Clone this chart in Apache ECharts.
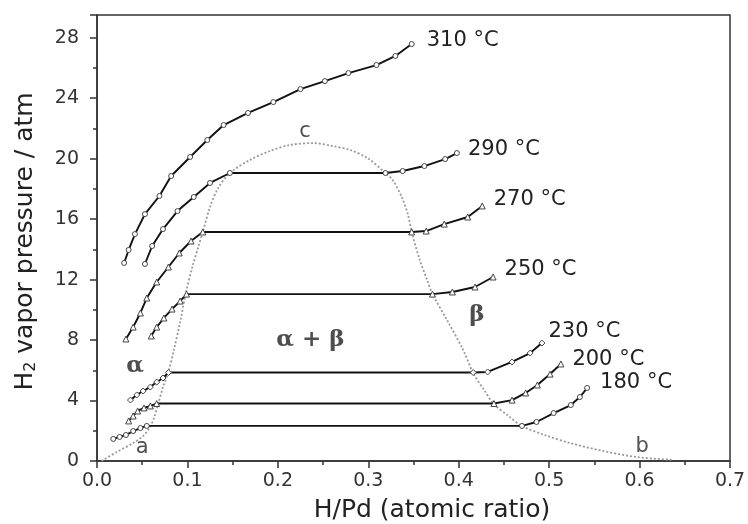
<!DOCTYPE html>
<html>
<head>
<meta charset="utf-8">
<script src="https://cdn.jsdelivr.net/npm/echarts@6/dist/echarts.min.js"></script>
<style>
html, body { margin: 0; padding: 0; background: #fff; }
#main { width: 748px; height: 524px; }
</style>
</head>
<body>
<div id="main"></div>
<script>
// isotherms: [H/Pd, pressure atm]
var t310 = [[0.030,13.10],[0.035,13.96],[0.042,15.01],[0.053,16.33],[0.069,17.53],[0.082,18.85],[0.103,20.11],[0.122,21.23],[0.140,22.22],[0.167,23.02],[0.195,23.74],[0.225,24.60],[0.252,25.13],[0.278,25.66],[0.309,26.19],[0.330,26.79],[0.348,27.58]];
var t290 = [[0.053,13.03],[0.061,14.22],[0.073,15.34],[0.089,16.53],[0.107,17.46],[0.125,18.39],[0.147,19.05],[0.319,19.05],[0.338,19.18],[0.362,19.51],[0.385,19.97],[0.398,20.37]];
var t270 = [[0.032,8.07],[0.040,8.86],[0.048,9.79],[0.055,10.78],[0.066,11.84],[0.079,12.83],[0.091,13.76],[0.104,14.55],[0.117,15.15],[0.348,15.15],[0.364,15.21],[0.384,15.67],[0.410,16.14],[0.426,16.87]];
var t250 = [[0.060,8.27],[0.066,8.86],[0.074,9.46],[0.083,10.05],[0.092,10.58],[0.099,11.04],[0.371,11.04],[0.393,11.18],[0.418,11.51],[0.438,12.17]];
var t230 = [[0.037,4.03],[0.044,4.37],[0.051,4.63],[0.059,4.89],[0.066,5.22],[0.073,5.49],[0.079,5.85],[0.416,5.85],[0.432,5.89],[0.459,6.55],[0.479,7.14],[0.492,7.80]];
var t200 = [[0.035,2.65],[0.040,2.98],[0.045,3.31],[0.052,3.51],[0.059,3.64],[0.066,3.80],[0.439,3.80],[0.459,4.03],[0.474,4.50],[0.487,5.03],[0.501,5.75],[0.513,6.42]];
var t180 = [[0.018,1.46],[0.025,1.59],[0.032,1.72],[0.040,1.98],[0.048,2.18],[0.055,2.32],[0.470,2.32],[0.486,2.58],[0.505,3.17],[0.524,3.70],[0.534,4.23],[0.542,4.83]];

// alpha / beta phase boundary (dotted)
var boundary = [[0.005,0],[0.022,0.60],[0.040,1.19],[0.051,1.65],[0.058,2.18],[0.063,2.84],[0.068,3.84],[0.073,4.89],[0.079,5.89],[0.085,7.34],[0.092,9.19],[0.098,11.04],[0.106,12.96],[0.112,14.15],[0.117,15.15],[0.125,16.80],[0.134,18.06],[0.147,19.05],[0.169,19.91],[0.191,20.50],[0.213,20.90],[0.239,21.03],[0.261,20.83],[0.280,20.57],[0.299,20.04],[0.319,19.05],[0.327,18.58],[0.337,17.46],[0.344,16.27],[0.348,15.15],[0.357,13.29],[0.365,11.97],[0.371,11.04],[0.387,9.33],[0.405,7.34],[0.416,5.82],[0.428,4.70],[0.439,3.77],[0.455,2.98],[0.470,2.31],[0.495,1.72],[0.523,1.19],[0.560,0.66],[0.597,0.26],[0.637,0.07]];

var tempNames = ['310 °C', '290 °C', '270 °C', '250 °C', '230 °C', '200 °C', '180 °C'];
var tempData = [t310, t290, t270, t250, t230, t200, t180];
var tempSymbols = ['circle', 'circle', 'triangle', 'triangle', 'diamond', 'triangle', 'circle'];
var labelOffsets = [[4, -3], [0, -3], [0, -6], [0, -7], [-5, -12], [0, -4], [2, -5]];

// region labels
var regionText = ['a', 'b', 'c', 'α', 'α + β', 'β'];
var regionPos = [[0.050, 0.86], [0.603, 0.93], [0.230, 21.76], [0.042, 6.28], [0.236, 8.0], [0.420, 9.66]];

var sans = 'DejaVu Sans, Verdana, sans-serif';
var myChart = echarts.init(document.getElementById('main'));

var series = [];
series.push({
    name: 'boundary',
    type: 'line',
    data: boundary,
    smooth: 0.3,
    symbol: 'none',
    lineStyle: { color: '#9a9a9a', width: 1.8, type: [2, 2] },
    z: 1
});

tempData.forEach(function (d, i) {
    var data = d.map(function (p, j) {
        if (j === d.length - 1) {
            return {
                value: p,
                label: {
                    show: true,
                    position: 'right',
                    distance: 8,
                    offset: labelOffsets[i],
                    formatter: tempNames[i],
                    fontSize: 21,
                    fontFamily: sans,
                    color: '#222'
                }
            };
        }
        return p;
    });
    series.push({
        name: tempNames[i],
        type: 'line',
        data: data,
        symbol: tempSymbols[i],
        symbolSize: tempSymbols[i] === 'circle' ? 5 : 6,
        showAllSymbol: true,
        lineStyle: { color: '#111', width: 1.9 },
        itemStyle: { color: '#fff', borderColor: '#444', borderWidth: 1 },
        z: 3
    });
});

series.push({
    name: 'regions',
    type: 'scatter',
    symbolSize: 0,
    data: regionPos.map(function (p, i) {
        var greek = i >= 3;
        return {
            value: p,
            label: {
                show: true,
                position: 'inside',
                formatter: regionText[i],
                fontSize: greek ? 23 : 21,
                fontWeight: greek ? 'bold' : 'normal',
                fontFamily: greek ? 'DejaVu Serif, serif' : sans,
                color: '#222'
            }
        };
    }),
    z: 4
});

var option = {
    animation: false,
    grid: {
        left: 97, right: 18, top: 15, bottom: 63,
        outerBoundsMode: 'none',
        containLabel: false,
        show: true, borderColor: '#333', borderWidth: 1.5
    },
    xAxis: {
        type: 'value',
        min: 0, max: 0.7, interval: 0.1,
        name: 'H/Pd (atomic ratio)',
        nameLocation: 'middle',
        nameGap: 37,
        nameTextStyle: { fontSize: 25, color: '#222', fontFamily: sans, padding: [0, 0, 0, 37] },
        axisLine: { lineStyle: { color: '#333', width: 1.5 } },
        axisTick: { inside: false, length: 7, lineStyle: { color: '#333', width: 1.5 } },
        minorTick: { show: true, splitNumber: 2, length: 4, lineStyle: { color: '#333', width: 1.5 } },
        splitLine: { show: false },
        axisLabel: {
            margin: 11, fontSize: 19, color: '#333',
            fontFamily: sans,
            formatter: function (v) { return v.toFixed(1); }
        }
    },
    yAxis: {
        type: 'value',
        min: 0, max: 29.5, interval: 4,
        name: '{t|H}{s|2}{t| vapor pressure / atm}',
        nameLocation: 'middle',
        nameGap: 58,
        nameRotate: 90,
        nameTextStyle: {
            padding: [0, 7, 0, 0],
            rich: {
                t: { fontSize: 25, color: '#222', fontFamily: sans },
                s: { fontSize: 16, color: '#222', fontFamily: sans, verticalAlign: 'bottom', padding: [12, 0, 0, 0] }
            }
        },
        axisLine: { lineStyle: { color: '#333', width: 1.5 } },
        axisTick: { inside: false, length: 7, lineStyle: { color: '#333', width: 1.5 } },
        minorTick: { show: true, splitNumber: 2, length: 4, lineStyle: { color: '#333', width: 1.5 } },
        splitLine: { show: false },
        axisLabel: {
            margin: 18, fontSize: 19, color: '#333',
            fontFamily: sans,
            formatter: function (v) { return v % 4 === 0 ? String(v) : ''; }
        }
    },
    series: series
};
myChart.setOption(option);
</script>
</body>
</html>
